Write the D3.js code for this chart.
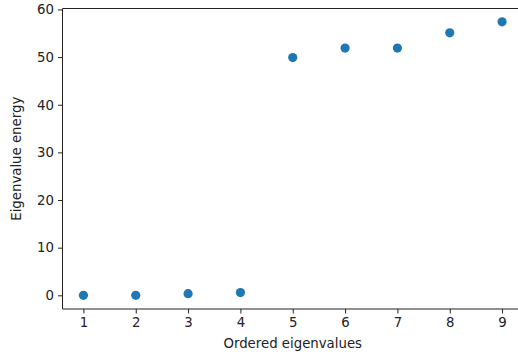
<!DOCTYPE html>
<html>
<head>
<meta charset="utf-8">
<script src="https://cdn.jsdelivr.net/npm/d3@7"></script>
<style>
  body { margin: 0; background: #fff; }
  svg text { font-family: "DejaVu Sans", sans-serif; }
</style>
</head>
<body>
<div id="chart"></div>
<script>
const ranks = [1, 2, 3, 4, 5, 6, 7, 8, 9];
const energy = [0.0, 0.0, 0.35, 0.57, 49.9, 51.9, 51.9, 55.1, 57.4];
const xTicks = [1, 2, 3, 4, 5, 6, 7, 8, 9];
const yTicks = [0, 10, 20, 30, 40, 50, 60];

const W = 518, H = 354;
const margin = { top: 8.5, right: -5, bottom: 45, left: 62.5 };
const width = W - margin.left - margin.right;
const height = H - margin.top - margin.bottom;
const fs = "13.3px";

const svg = d3.select("#chart").append("svg")
  .attr("width", W).attr("height", H);
const g = svg.append("g")
  .attr("transform", `translate(${margin.left},${margin.top})`);

const x = d3.scaleLinear().domain([0.6, 9.4]).range([0, width]);
const y = d3.scaleLinear().domain([-2.87, 60.2]).range([height, 0]);

// Points
g.selectAll(".dot")
  .data(ranks.map((r, i) => ({ r, v: energy[i] })))
  .join("circle")
  .attr("class", "dot")
  .attr("cx", (d) => x(d.r))
  .attr("cy", (d) => y(d.v))
  .attr("r", 4.6)
  .attr("fill", "#1f77b4");

// X axis
g.append("g")
  .attr("transform", `translate(0,${height})`)
  .call(d3.axisBottom(x).tickValues(xTicks).tickFormat(d3.format("d")).tickSize(4.5).tickPadding(4))
  .call((a) => a.select(".domain").attr("d", `M0,0H${width}`))
  .call((a) => a.selectAll("line,path").attr("stroke", "#222").attr("stroke-width", 1))
  .selectAll("text")
  .attr("fill", "#222")
  .attr("font-size", fs);

// Y axis
g.append("g")
  .call(d3.axisLeft(y).tickValues(yTicks).tickSize(4.5).tickPadding(4))
  .call((a) => a.select(".domain").attr("d", `M0,0V${height}`))
  .call((a) => a.selectAll("line,path").attr("stroke", "#222").attr("stroke-width", 1))
  .selectAll("text")
  .attr("fill", "#222")
  .attr("font-size", fs);

// Top spine
g.append("line")
  .attr("x1", 0).attr("x2", width)
  .attr("y1", 0).attr("y2", 0)
  .attr("stroke", "#222").attr("stroke-width", 1);

// Axis labels
g.append("text")
  .attr("x", width / 2).attr("y", height + 39)
  .attr("text-anchor", "middle")
  .attr("font-size", fs)
  .attr("fill", "#222")
  .text("Ordered eigenvalues");

g.append("text")
  .attr("transform", `translate(${-42},${height / 2}) rotate(-90)`)
  .attr("text-anchor", "middle")
  .attr("font-size", fs)
  .attr("fill", "#222")
  .text("Eigenvalue energy");
</script>
</body>
</html>
